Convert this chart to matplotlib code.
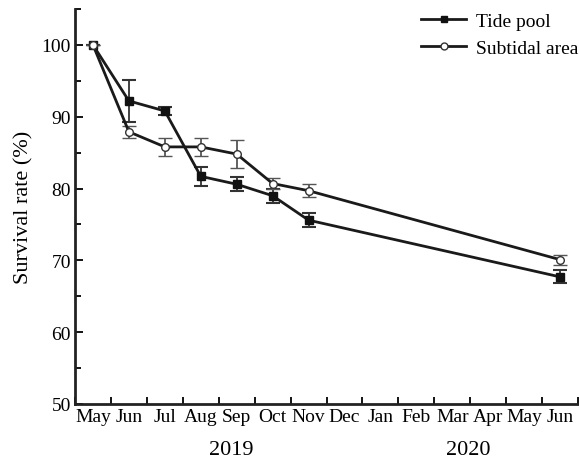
import matplotlib
matplotlib.use("Agg")
import matplotlib.pyplot as plt
from matplotlib.ticker import MultipleLocator, FixedLocator
from matplotlib.lines import Line2D

months = ["May", "Jun", "Jul", "Aug", "Sep", "Oct", "Nov", "Dec", "Jan",
          "Feb", "Mar", "Apr", "May", "Jun"]
years = ["2019", "2020"]
sample_month_idx = [0, 1, 2, 3, 4, 5, 6, 13]

tide_pool = [100.0, 92.2, 90.8, 81.7, 80.6, 79.0, 75.6, 67.7]
tide_pool_err = [0.0, 2.9, 0.6, 1.3, 1.0, 1.0, 1.0, 0.9]
subtidal = [100.0, 87.9, 85.8, 85.8, 84.8, 80.7, 79.7, 70.1]
subtidal_err = [0.0, 0.8, 1.3, 1.3, 1.9, 0.8, 0.9, 0.7]

plt.rcParams['font.family'] = ['Liberation Serif', 'DejaVu Serif']

fig = plt.figure(figsize=(5.79, 4.64), dpi=100)
ax = fig.add_axes([75/579, (464-405)/464, (578-75)/579, (405-10)/464])

x = [i + 0.5 for i in sample_month_idx]

ax.errorbar(x, tide_pool, yerr=tide_pool_err, color='#1a1a1a', lw=2,
            marker='s', ms=5.5, mfc='#111111', mec='#111111',
            ecolor='#333333', elinewidth=1.3, capsize=5, capthick=1.5,
            zorder=3)
ax.errorbar(x, subtidal, yerr=subtidal_err, color='#1a1a1a', lw=2,
            marker='o', ms=5.5, mfc='white', mec='#333333', mew=1.0,
            ecolor='#555555', elinewidth=1.3, capsize=5, capthick=1.5,
            zorder=3)

ax.set_xlim(0, 14)
ax.set_ylim(50, 105)
ax.yaxis.set_major_locator(FixedLocator([50, 60, 70, 80, 90, 100]))
ax.yaxis.set_minor_locator(MultipleLocator(5))
ax.xaxis.set_major_locator(MultipleLocator(1))
ax.xaxis.set_minor_locator(FixedLocator([i + 0.5 for i in range(len(months))]))
ax.set_xticklabels([], minor=False)
ax.set_xticklabels(months, minor=True, fontsize=14)
ax.tick_params(axis='x', which='major', direction='in', length=5, width=1.3)
ax.tick_params(axis='x', which='minor', length=0, pad=3)
ax.tick_params(axis='y', which='major', direction='in', length=6, width=1.3,
               labelsize=14, pad=3)
ax.tick_params(axis='y', which='minor', direction='in', length=4, width=1.3)

for s in ['top', 'right']:
    ax.spines[s].set_visible(False)
for s in ['left', 'bottom']:
    ax.spines[s].set_linewidth(2)
    ax.spines[s].set_color('#222222')

ax.set_ylabel('Survival rate (%)', fontsize=16, labelpad=6)

year_pos = [4.35, 10.95]
for yp, yr in zip(year_pos, years):
    ax.text(yp, -0.115, yr, transform=ax.get_xaxis_transform(),
            ha='center', va='center', fontsize=16)

handles = [
    Line2D([], [], color='#1a1a1a', lw=2, marker='s', ms=5, mfc='#111111', mec='#111111'),
    Line2D([], [], color='#1a1a1a', lw=2, marker='o', ms=5, mfc='white', mec='#333333', mew=1.0),
]
ax.legend(handles, ['Tide pool', 'Subtidal area'], loc='upper right',
          bbox_to_anchor=(1.035, 1.035), frameon=False,
          fontsize=14, handlelength=2.3, handletextpad=0.5,
          labelspacing=0.45)

fig.savefig('out.png', dpi=100)
